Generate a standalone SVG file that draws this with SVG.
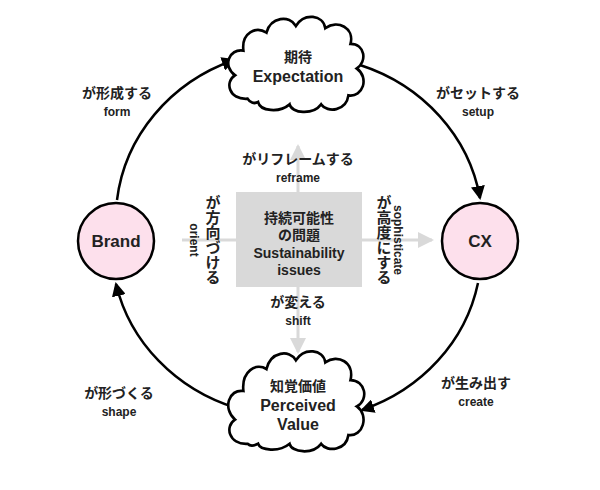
<svg xmlns="http://www.w3.org/2000/svg" width="600" height="490" viewBox="0 0 600 490">
<style>
text{font-family:"Liberation Sans","Noto Sans CJK JP",sans-serif;font-weight:bold;fill:#222;text-anchor:middle}
.jp{font-size:14px}.en{font-size:12px}
.big{font-size:16px}
.arc{fill:none;stroke:#000;stroke-width:2.5}
.g{stroke:#d9d9d9;stroke-width:3;fill:none}
.cloud{fill:#fff;stroke:#000;stroke-width:2.5}
.node{fill:#fde0ec;stroke:#000;stroke-width:2.5}
</style>
<defs>
<marker id="a" markerWidth="14" markerHeight="14" refX="12" refY="7" orient="auto" markerUnits="userSpaceOnUse"><path d="M0,0L14,7L0,14z" fill="#000"/></marker>
<marker id="ga" markerWidth="16" markerHeight="16" refX="14" refY="8" orient="auto" markerUnits="userSpaceOnUse"><path d="M0,0L16,8L0,16z" fill="#d9d9d9"/></marker>
</defs>
<g id="connectors">
<path class="arc" d="M117,200 A182,170 0 0 1 234,60" marker-end="url(#a)"/>
<path class="arc" d="M360,65 A182,170 0 0 1 480,198" marker-end="url(#a)"/>
<path class="arc" d="M478,283 A182,170 0 0 1 362,410" marker-end="url(#a)"/>
<path class="arc" d="M236,408 A182,170 0 0 1 116,284" marker-end="url(#a)"/>
<line class="g" x1="298" y1="192" x2="298" y2="146" marker-end="url(#ga)"/>
<line class="g" x1="298" y1="287" x2="298" y2="352" marker-end="url(#ga)"/>
<line class="g" x1="362" y1="240" x2="432" y2="240" marker-end="url(#ga)"/>
<line class="g" x1="236" y1="240" x2="182" y2="240"/>
<text class="jp" x="117" y="98">が形成する</text>
<text class="en" x="117" y="116">form</text>
<text class="jp" x="478" y="98">がセットする</text>
<text class="en" x="478" y="116">setup</text>
<text class="jp" x="476" y="388">が生み出す</text>
<text class="en" x="476" y="406">create</text>
<text class="jp" x="119" y="398">が形づくる</text>
<text class="en" x="119" y="416">shape</text>
<text class="jp" x="298" y="164">がリフレームする</text>
<text class="en" x="298" y="182">reframe</text>
<text class="jp" x="298" y="307">が変える</text>
<text class="en" x="298" y="325">shift</text>
<text class="jp" x="212" y="240" style="writing-mode:vertical-rl;text-anchor:middle;font-size:15px">が方向づける</text>
<text class="en" x="194" y="244" transform="rotate(90 194 240)">orient</text>
<text class="jp" x="383" y="240" style="writing-mode:vertical-rl;text-anchor:middle;font-size:15px">が高度にする</text>
<text class="en" x="398" y="244" transform="rotate(90 398 240)">sophisticate</text>
</g>
<g id="issues">
<rect x="236" y="192" width="126" height="95" fill="#d9d9d9"/>
<text class="jp" x="299" y="223">持続可能性</text>
<text class="jp" x="299" y="240">の問題</text>
<text x="299" y="258" style="font-size:14px">Sustainability</text>
<text x="299" y="275" style="font-size:14px">issues</text>
</g>
<g id="brand"><circle class="node" cx="116" cy="241" r="38"/><text class="big" x="116" y="247" style="font-size:17px">Brand</text></g>
<g id="cx"><circle class="node" cx="480" cy="241" r="38"/><text class="big" x="480" y="247" style="font-size:17px">CX</text></g>
<g id="expectation">
<path class="cloud" transform="translate(298 64) scale(1.05 1.12) translate(-298 -64)" d="M250,95 C232,96 228,80 238,74 C226,66 232,50 246,52 C244,36 258,30 268,36 C272,22 290,20 296,30 C304,18 322,20 324,32 C336,24 352,32 348,46 C362,46 364,62 354,68 C366,76 360,94 346,92 C344,106 326,108 320,100 C312,110 292,108 290,100 C280,108 262,106 260,98 C256,100 252,98 250,95Z"/>
<text class="jp" x="298" y="62">期待</text>
<text class="big" x="298" y="82">Expectation</text>
</g>
<g id="perceived">
<path class="cloud" transform="translate(298 402) scale(1.05 1.1) translate(-298 -402)" d="M250,440 C232,441 228,424 238,418 C226,408 232,390 246,392 C244,374 258,366 268,372 C272,356 290,354 296,364 C304,352 322,354 324,366 C336,358 352,366 348,382 C362,382 366,400 354,406 C366,414 360,434 346,432 C344,446 326,448 320,440 C312,450 292,448 290,440 C280,448 262,446 260,440 C256,442 252,442 250,440Z"/>
<text class="jp" x="298" y="391">知覚価値</text>
<text class="big" x="298" y="411">Perceived</text>
<text class="big" x="298" y="430">Value</text>
</g>
</svg>
